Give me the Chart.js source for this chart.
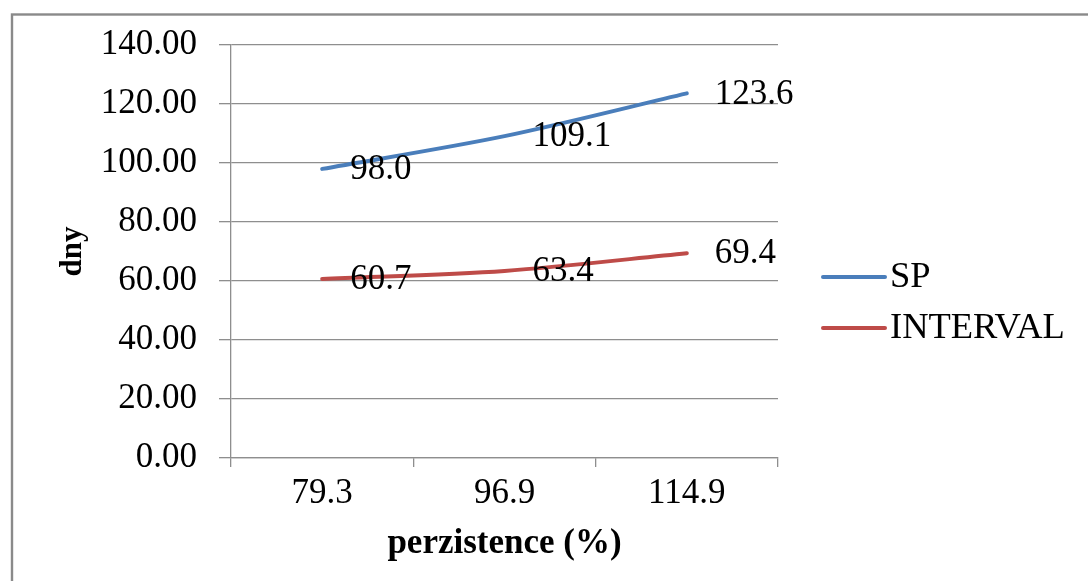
<!DOCTYPE html>
<html>
<head>
<meta charset="utf-8">
<title>perzistence</title>
<script src="https://cdn.jsdelivr.net/npm/chart.js@4/dist/chart.umd.min.js"></script>
<style>
  html, body { margin: 0; padding: 0; background: #ffffff; overflow: hidden; }
  canvas { display: block; }
</style>
</head>
<body>
<canvas id="chart" width="1088" height="581"></canvas>
<script>
// Persistence categories (x axis tick labels)
const categories = ['79.3', '96.9', '114.9'];
// Days per series
const spValues = [98.0, 109.1, 123.6];
const intervalValues = [60.7, 63.4, 69.4];
const seriesNames = ['SP', 'INTERVAL'];
// Value axis range
const yMin = 0;
const yMax = 140;
const yStep = 20;

const SERIF = "'Liberation Serif', 'Times New Roman', Times, serif";
const GRID = '#8e8e8e';
const BLUE = '#4a7ebb';
const RED = '#be4b48';

// Grey frame around the whole figure
const framePlugin = {
  id: 'frame',
  beforeDraw(chart) {
    const ctx = chart.ctx;
    ctx.save();
    ctx.strokeStyle = '#8a8a8a';
    ctx.lineWidth = 2.4;
    ctx.strokeRect(12, 14.5, 1300, 900);
    ctx.restore();
  }
};

// Value labels to the right of every point
const valueLabelPlugin = {
  id: 'valueLabels',
  afterDatasetsDraw(chart) {
    const ctx = chart.ctx;
    ctx.save();
    ctx.font = '35px ' + SERIF;
    ctx.fillStyle = '#000000';
    ctx.textAlign = 'left';
    ctx.textBaseline = 'middle';
    chart.data.datasets.forEach((ds, i) => {
      const meta = chart.getDatasetMeta(i);
      meta.data.forEach((pt, j) => {
        ctx.fillText(ds.data[j].toFixed(1), pt.x + 28, pt.y + 1);
      });
    });
    ctx.restore();
  }
};

// Legend on the right: short line sample followed by the series name
const lineLegendPlugin = {
  id: 'lineLegend',
  afterDraw(chart) {
    const ctx = chart.ctx;
    const x0 = 823, x1 = 885, textX = 890;
    const rows = [277, 328];
    ctx.save();
    chart.data.datasets.forEach((ds, i) => {
      const y = rows[i];
      ctx.beginPath();
      ctx.strokeStyle = ds.borderColor;
      ctx.lineWidth = 4;
      ctx.lineCap = 'round';
      ctx.moveTo(x0, y);
      ctx.lineTo(x1, y);
      ctx.stroke();
      ctx.font = '36.5px ' + SERIF;
      ctx.fillStyle = '#000000';
      ctx.textAlign = 'left';
      ctx.textBaseline = 'middle';
      ctx.fillText(ds.label, textX, y);
    });
    ctx.restore();
  }
};

new Chart(document.getElementById('chart'), {
  type: 'line',
  data: {
    labels: categories,
    datasets: [
      {
        label: seriesNames[0],
        data: spValues,
        borderColor: BLUE,
        backgroundColor: BLUE,
        borderWidth: 4,
        borderCapStyle: 'round',
        tension: 0.3,
        pointRadius: 0,
        fill: false
      },
      {
        label: seriesNames[1],
        data: intervalValues,
        borderColor: RED,
        backgroundColor: RED,
        borderWidth: 4,
        borderCapStyle: 'round',
        tension: 0.3,
        pointRadius: 0,
        fill: false
      }
    ]
  },
  options: {
    responsive: false,
    animation: false,
    devicePixelRatio: 1,
    layout: { padding: { left: 0, top: 45, right: 310, bottom: 0 } },
    plugins: {
      legend: { display: false },
      tooltip: { enabled: false },
      title: { display: false }
    },
    scales: {
      x: {
        type: 'category',
        offset: true,
        grid: {
          offset: true,
          drawOnChartArea: false,
          drawTicks: true,
          tickLength: 9,
          color: GRID,
          lineWidth: 1.3
        },
        border: { color: GRID, width: 1.3 },
        ticks: {
          color: '#000000',
          font: { family: SERIF, size: 35 },
          padding: 6,
          maxRotation: 0,
          autoSkip: false
        },
        title: {
          display: true,
          text: 'perzistence (%)',
          color: '#000000',
          font: { family: SERIF, size: 35, weight: 'bold' },
          padding: { top: 0, bottom: 16 }
        },
        afterFit(scale) { scale.height = 123; }
      },
      y: {
        min: yMin,
        max: yMax,
        grid: {
          color: GRID,
          lineWidth: 1.3,
          drawTicks: true,
          tickLength: 12
        },
        border: { color: GRID, width: 1.3 },
        ticks: {
          stepSize: yStep,
          color: '#000000',
          font: { family: SERIF, size: 35 },
          padding: 22,
          callback: (v) => Number(v).toFixed(2)
        },
        title: {
          display: true,
          text: 'dny',
          color: '#000000',
          font: { family: SERIF, size: 31, weight: 'bold' },
          padding: { top: 54, bottom: 0 }
        },
        afterFit(scale) { scale.width = 231; }
      }
    }
  },
  plugins: [framePlugin, valueLabelPlugin, lineLegendPlugin]
});
</script>
</body>
</html>
